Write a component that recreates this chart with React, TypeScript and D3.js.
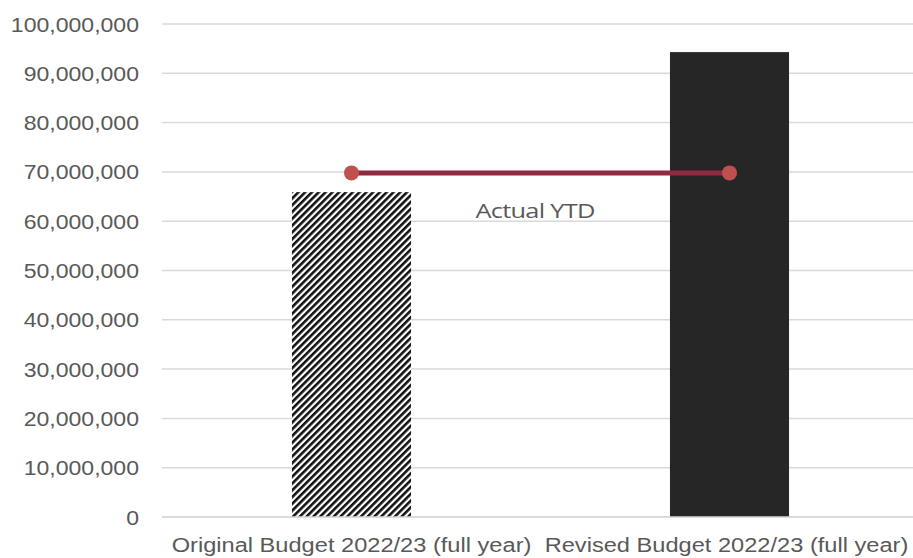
import React from "react";
import * as d3 from "d3";

const categories = ["Original Budget 2022/23 (full year)", "Revised Budget 2022/23 (full year)"];
const budgetValues = [65900000, 94300000];
const actualYTD = [69800000, 69800000];
const yTicks = [0, 10000000, 20000000, 30000000, 40000000, 50000000, 60000000, 70000000, 80000000, 90000000, 100000000];
const seriesLabel = "Actual YTD";

const W = 913;
const H = 558;
const SX = 1.125;

export default function App() {
  const x = d3.scaleBand<string>().domain(categories).range([162.5, 918.5]).paddingInner(0).paddingOuter(0);
  const y = d3.scaleLinear().domain([0, 100000000]).range([517, 24]);
  const fmt = d3.format(",");
  const bw = x.bandwidth() * 0.315;
  const cx = (c: string) => (x(c) as number) + x.bandwidth() / 2;
  const line = d3.line<number>().x((_, i) => cx(categories[i])).y((d) => y(d));

  return (
    <div style={{ position: "fixed", left: 0, top: 0 }}>
      <svg width={W} height={H} style={{ display: "block", background: "#fff" }}>
        <defs>
          <pattern id="hatch" patternUnits="userSpaceOnUse" width={4.8} height={4.8} patternTransform="rotate(45)">
            <rect x={0} y={0} width={4.8} height={4.8} fill="#fff" />
            <rect x={0} y={0} width={2.6} height={4.8} fill="#111" />
          </pattern>
        </defs>
        {yTicks.map((t) => (
          <g key={t}>
            <line x1={162} x2={W} y1={y(t)} y2={y(t)} stroke="#d9d9d9" strokeWidth={1.5} />
            <text
              transform={`translate(139,${y(t)}) scale(${SX},1)`}
              dy="0.37em"
              textAnchor="end"
              fontFamily="Liberation Sans, Arial, sans-serif"
              fontSize={20.5}
              fill="#595959"
            >
              {fmt(t)}
            </text>
          </g>
        ))}
        {categories.map((c, i) => (
          <rect
            key={c}
            x={cx(c) - bw / 2}
            y={y(budgetValues[i])}
            width={bw}
            height={y(0) - y(budgetValues[i])}
            fill={i === 0 ? "url(#hatch)" : "#262626"}
          />
        ))}
        <line x1={162} x2={W} y1={y(0)} y2={y(0)} stroke="#d9d9d9" strokeWidth={1.5} />
        <path d={line(actualYTD) || ""} stroke="#8e2b40" strokeWidth={5} fill="none" />
        {actualYTD.map((v, i) => (
          <circle key={i} cx={cx(categories[i])} cy={y(v)} r={7.5} fill="#c0504d" />
        ))}
        <text
          transform={`translate(535,218) scale(1.24,1)`}
          textAnchor="middle"
          fontFamily="Open Sans, sans-serif"
          fontSize={20.5}
          fill="#595959"
          letterSpacing={-0.6}
        >
          {seriesLabel}
        </text>
        {categories.map((c, i) => (
          <text
            key={c}
            transform={`translate(${cx(c) - (i === 1 ? 3 : 0)},552) scale(${SX},1)`}
            textAnchor="middle"
            fontFamily="Liberation Sans, Arial, sans-serif"
            fontSize={21}
            fill="#595959"
          >
            {c}
          </text>
        ))}
      </svg>
    </div>
  );
}
